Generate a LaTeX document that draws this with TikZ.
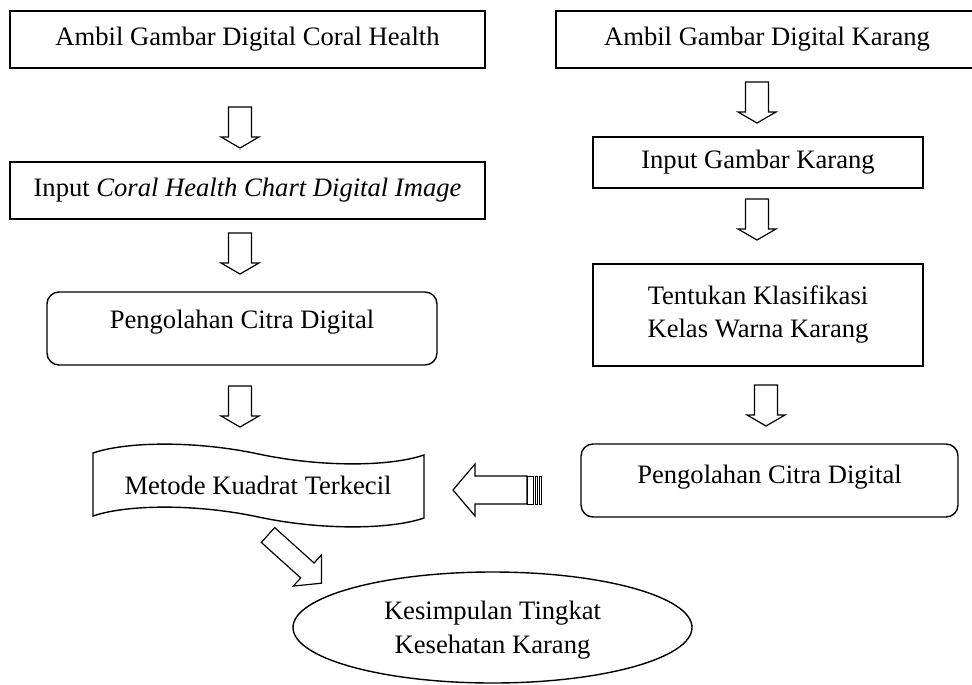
\documentclass[tikz,border=0pt]{standalone}
\usepackage{fontspec}
\setmainfont{Liberation Serif}
\usetikzlibrary{shapes.geometric}

\tikzset{
  dnarrow/.pic = {
    \draw[line width=0.6pt] (-11.5,0) -- (11.5,0) -- (11.5,30) -- (19,30) -- (0,41)
      -- (-19,30) -- (-11.5,30) -- cycle;
  },
  leftarrow/.pic = {
    \draw[line width=0.6pt] (0,0) -- (22,-26) -- (22,-14) -- (74,-14) -- (74,14)
      -- (22,14) -- (22,26) -- cycle;
    \draw[line width=0.45pt] (74,-14) rectangle (80.5,14);
    \draw[line width=0.45pt] (82,-14) rectangle (84.5,14);
    \draw[line width=0.45pt] (86,-14) rectangle (88.5,14);
  },
  diagarrow/.pic = {
    \draw[line width=0.6pt] (0,-10) -- (53,-10) -- (53,-21) -- (72,0) -- (53,21)
      -- (53,10) -- (0,10) -- cycle;
  }
}

\begin{document}
\begin{tikzpicture}[x=0.5pt, y=-0.5pt, font=\fontsize{13.3}{16.5}\selectfont,
    main/.style = {draw, line width=0.7pt, inner sep=0pt, align=center},
    roundbox/.style = {main, rounded corners=6pt},
    plain/.style = {inner sep=0pt, align=center},
    endbox/.style = {main, ellipse}]
  \useasboundingbox (0,0) rectangle (972,684);
  \clip (0,0) rectangle (972,684);

  \node[main, line width=1pt, minimum width=237.5pt, minimum height=28.5pt] (1) at (247.5,39.5) {Ambil Gambar Digital Coral Health};
  \node[main, minimum width=237.5pt, minimum height=28.5pt] (2) at (247.5,190.5) {Input \textit{Coral Health Chart Digital Image}};
  \node[roundbox, minimum width=195pt, minimum height=36.5pt, text depth=9.5pt] (3) at (242,328.5) {Pengolahan Citra Digital};
  \node[main, line width=1pt, minimum width=211pt, minimum height=28.5pt] (4) at (767,39.5) {Ambil Gambar Digital Karang};
  \node[main, minimum width=165pt, minimum height=25.5pt] (5) at (758,162.5) {Input Gambar Karang};
  \node[main, minimum width=165pt, minimum height=51pt] (6) at (758,315) {Tentukan Klasifikasi\\Kelas Warna Karang};
  \node[roundbox, minimum width=188.5pt, minimum height=36.5pt, text depth=6.5pt] (7) at (769.5,480.5) {Pengolahan Citra Digital};
  \node[plain] (8) at (258,485) {Metode Kuadrat Terkecil};
  \node[endbox, minimum width=199.5pt, minimum height=55.5pt, text depth=0pt,
    font=\fontsize{13.3}{17}\selectfont] (9) at (492.5,627.5) {Kesimpulan Tingkat\\Kesehatan Karang};

  % punched tape round 8
  \draw[line width=0.7pt] (93,453) .. controls (128,441) and (198,441) .. (258.5,454)
    .. controls (319,467) and (389,467) .. (424,455) -- (424,518)
    .. controls (389,530) and (319,530) .. (258.5,517)
    .. controls (198,504) and (128,504) .. (93,516) -- cycle;

  \pic at (240,107) {dnarrow};
  \pic at (240,233) {dnarrow};
  \pic at (240,386) {dnarrow};
  \pic at (757,82) {dnarrow};
  \pic at (757,199) {dnarrow};
  \pic at (766,385) {dnarrow};
  \pic at (453,490) {leftarrow};
  \pic[rotate=-42] at (268,535) {diagarrow};
\end{tikzpicture}
\end{document}
